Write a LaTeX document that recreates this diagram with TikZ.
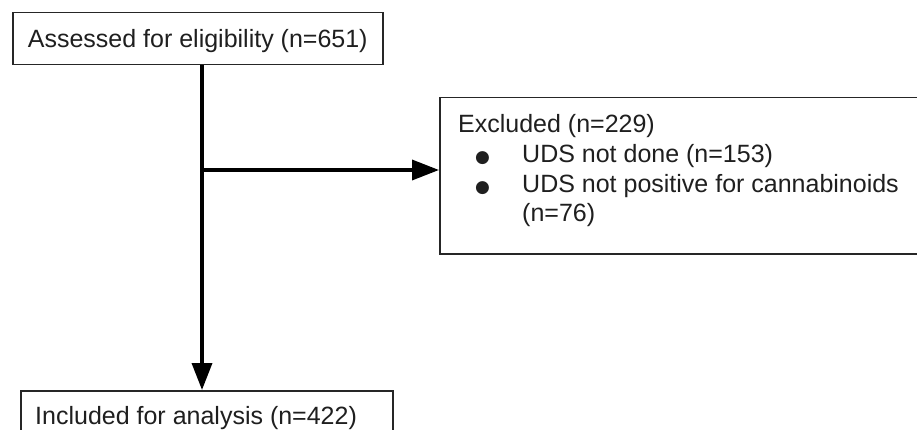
\documentclass[tikz,border=0pt]{standalone}
\usepackage{fontspec}
\setmainfont{Liberation Sans}
\newfontfamily\dejavu{DejaVu Sans}
\usetikzlibrary{arrows.meta}
\begin{document}
\begin{tikzpicture}[x=1pt,y=1pt,
  boxstyle/.style={draw=black!85, line width=1.5pt, rectangle, inner sep=0pt},
  txt/.style={font=\fontsize{25}{29.7}\selectfont, text=black!88, inner sep=0pt},
  flow/.style={line width=3.5pt, -{Triangle[length=27pt,width=20pt]}},
]
\useasboundingbox (0,0) rectangle (917,-430);
\clip (0,0) rectangle (917,-430);
\fill[white] (0,0) rectangle (917,-430);
% top box
\node[boxstyle, txt, text height=17.9pt, text depth=0pt, minimum width=370pt, minimum height=52pt, anchor=north west] (top) at (12,-12) {Assessed for eligibility (n=651)};
% excluded box
\node[boxstyle, minimum width=520pt, minimum height=156pt, anchor=north west] (excl) at (439,-97) {};
\node[txt, align=left, anchor=base west] (excltxt) at (458,-222) {Excluded (n=229)\\
\hspace*{17pt}\makebox[47pt][l]{\dejavu\fontsize{17}{17}\selectfont ●}UDS not done (n=153)\\
\hspace*{17pt}\makebox[47pt][l]{\dejavu\fontsize{17}{17}\selectfont ●}UDS not positive for cannabinoids\\
\hspace*{64pt}(n=76)};
% bottom box
\node[boxstyle, minimum width=372pt, minimum height=100pt, anchor=north west] (bot) at (20,-390) {};
\node[txt, anchor=base west] (bottxt) at (35,-424.5) {Included for analysis (n=422)};
% connectors
\coordinate (j) at (202,-170);
\draw[flow] (top.south -| j) -- (j |- bot.north);
\draw[flow] (j) -- (excl.west |- j);
\end{tikzpicture}
\end{document}
